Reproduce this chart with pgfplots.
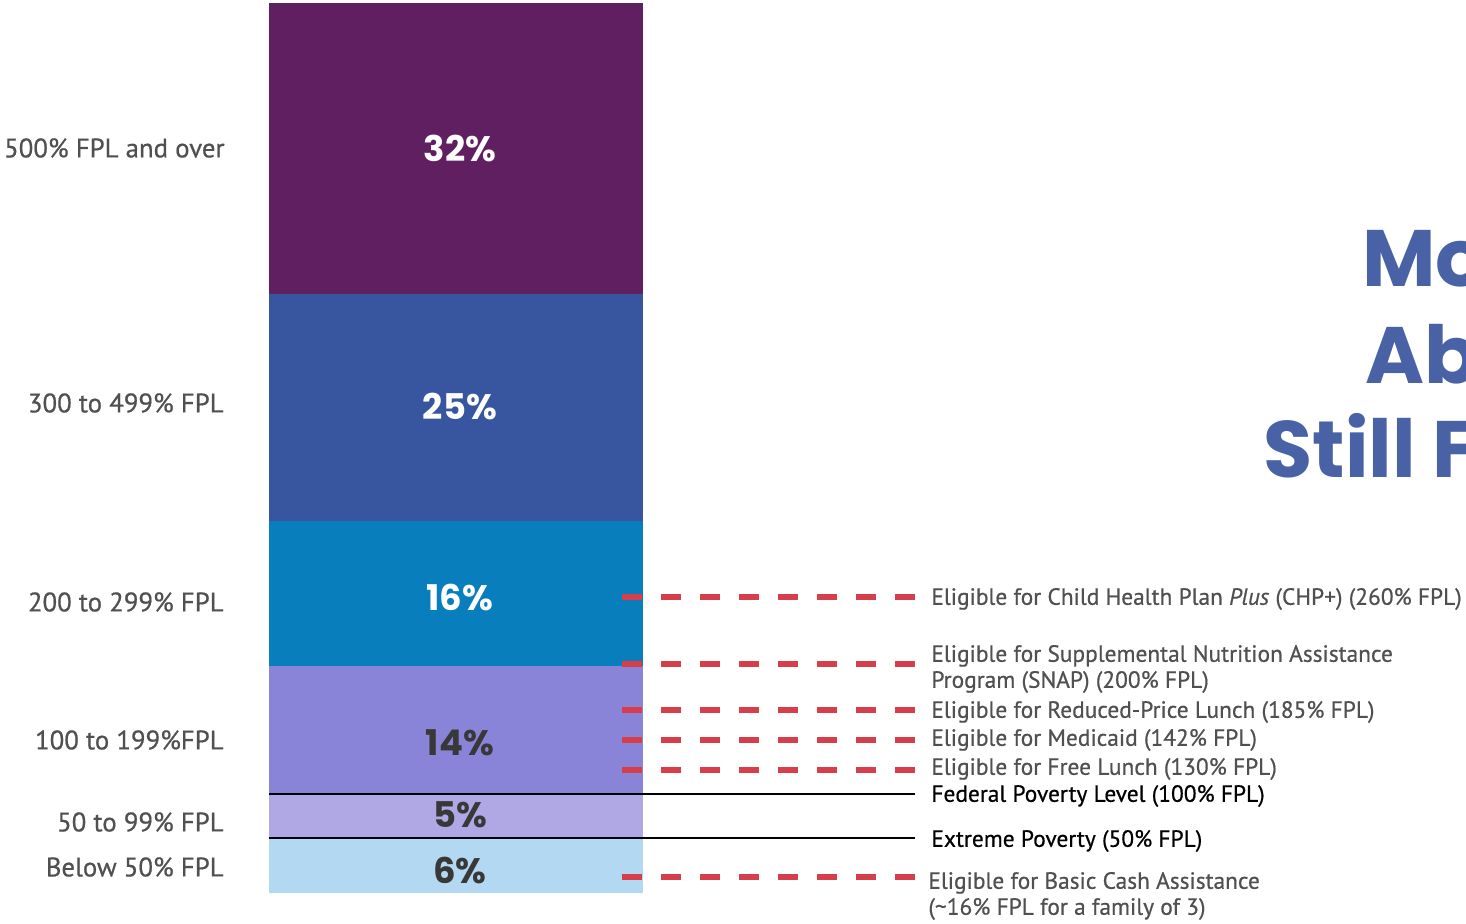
\documentclass[border=0pt]{standalone}
\usepackage{pgfplots}
\pgfplotsset{compat=1.18}
\usepackage{fontspec}
\setmainfont{PT Sans}[FakeBold=0.6]
\newfontfamily\pop{Poppins}
\definecolor{cA}{HTML}{B3D8F1}
\definecolor{cB}{HTML}{B0A8E4}
\definecolor{cC}{HTML}{8A84D9}
\definecolor{cD}{HTML}{087EBC}
\definecolor{cE}{HTML}{38569F}
\definecolor{cF}{HTML}{601F61}
\definecolor{redd}{HTML}{D63E4C}
\definecolor{titleblue}{HTML}{4961A5}
\definecolor{lab}{HTML}{505050}
\begin{document}
\begin{tikzpicture}
\useasboundingbox (0,0) rectangle (733pt,462pt);
\begin{axis}[at={(0,0)}, anchor=south west, scale only axis,
  width=733pt, height=462pt, xmin=0, xmax=1466, ymin=-3.4135, ymax=98.33,
  axis lines=none, ybar stacked, bar width=374, clip=false]
\addplot[fill=cA, draw=none] coordinates {(456,6)};
\addplot[fill=cB, draw=none] coordinates {(456,5)};
\addplot[fill=cC, draw=none] coordinates {(456,14)};
\addplot[fill=cD, draw=none] coordinates {(456,16)};
\addplot[fill=cE, draw=none] coordinates {(456,25)};
\addplot[fill=cF, draw=none] coordinates {(456,32)};
\end{axis}
\begin{axis}[at={(0,0)}, anchor=south west, scale only axis,
  width=733pt, height=462pt, xmin=0, xmax=1466, ymin=0, ymax=924, y dir=reverse,
  axis lines=none, clip=false]
% reference lines
\addplot[redd, line width=3pt, dash pattern=on 10pt off 9.5pt] coordinates {(622,597) (915,597)};
\addplot[redd, line width=3pt, dash pattern=on 10pt off 9.5pt] coordinates {(622,664) (915,664)};
\addplot[redd, line width=3pt, dash pattern=on 10pt off 9.5pt] coordinates {(622,710) (915,710)};
\addplot[redd, line width=3pt, dash pattern=on 10pt off 9.5pt] coordinates {(622,740) (915,740)};
\addplot[redd, line width=3pt, dash pattern=on 10pt off 9.5pt] coordinates {(622,770) (915,770)};
\addplot[redd, line width=3pt, dash pattern=on 10pt off 9.5pt] coordinates {(622,877) (915,877)};
\addplot[black, line width=1.2pt] coordinates {(269,794) (915,794)};
\addplot[black, line width=1.2pt] coordinates {(269,838) (915,838)};
% bar value labels
\begin{scope}[every node/.style={font=\pop\bfseries\fontsize{17.7}{20}\selectfont, anchor=center, inner sep=0pt}]
\node[white] at (axis cs:460,148) {32\%};
\node[white] at (axis cs:460,406) {25\%};
\node[white] at (axis cs:460,598) {16\%};
\node[text=black!78] at (axis cs:460,743) {14\%};
\node[text=black!78] at (axis cs:460,815) {5\%};
\node[text=black!78] at (axis cs:460,871) {6\%};
\end{scope}
% category labels
\begin{scope}[every node/.style={font=\fontsize{13.4}{15}\selectfont, text=lab, anchor=east, inner sep=0pt}]
\node at (axis cs:225,148) {500\% FPL and over};
\node at (axis cs:224,403) {300 to 499\% FPL};
\node at (axis cs:224,602) {200 to 299\% FPL};
\node at (axis cs:224,740) {100 to 199\%FPL};
\node at (axis cs:224,822) {50 to 99\% FPL};
\node at (axis cs:224,867) {Below 50\% FPL};
\end{scope}
% threshold labels
\begin{scope}[every node/.style={font=\fontsize{11.7}{13}\selectfont, text=lab, anchor=west, inner sep=0pt, align=left}]
\node at (axis cs:931,599) {Eligible for Child Health Plan \textit{Plus} (CHP+) (260\% FPL)};
\node at (axis cs:931,669) {Eligible for Supplemental Nutrition Assistance\\Program (SNAP) (200\% FPL)};
\node at (axis cs:931,712) {Eligible for Reduced-Price Lunch (185\% FPL)};
\node at (axis cs:931,740) {Eligible for Medicaid (142\% FPL)};
\node at (axis cs:931,769) {Eligible for Free Lunch (130\% FPL)};
\node[text=black] at (axis cs:931,796) {Federal Poverty Level (100\% FPL)};
\node[text=black] at (axis cs:931,841) {Extreme Poverty (50\% FPL)};
\node at (axis cs:928,896) {Eligible for Basic Cash Assistance\\(\textasciitilde 16\% FPL for a family of 3)};
\end{scope}
% title (cut off at the right edge, as in the reference)
\begin{scope}[every node/.style={font=\pop\bfseries\fontsize{40}{48}\selectfont, text=titleblue, anchor=base west, inner sep=0pt}]
\node at (axis cs:1362,287) {Mo};
\node at (axis cs:1365,384) {Ab};
\node at (axis cs:1263,478) {Still F};
\end{scope}
\end{axis}
\end{tikzpicture}
\end{document}
